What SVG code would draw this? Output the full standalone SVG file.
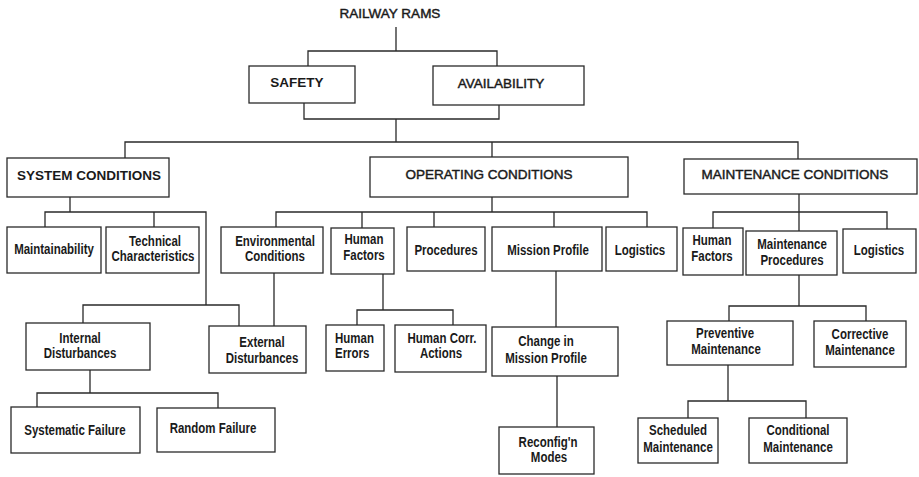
<svg xmlns="http://www.w3.org/2000/svg" width="919" height="477" viewBox="0 0 919 477">
<style>
.b{fill:#fff;stroke:#2a2a2a;stroke-width:1.3}
.c{fill:none;stroke:#2a2a2a;stroke-width:1.3}
.t{font-family:"Liberation Sans",Arial,sans-serif;font-weight:bold;font-size:14px;fill:#1a1a1a;text-anchor:middle}
.s{text-anchor:start}
.h{font-family:"Liberation Sans",Arial,sans-serif;font-size:13.5px;fill:#1a1a1a;stroke:#1a1a1a;stroke-width:0.45;text-anchor:middle}
.hb{font-weight:bold;stroke:none}
</style>
<rect width="919" height="477" fill="#fff"/>
<g id="connectors">
<path class="c" d="M396 27V51M308 66V51H497V66M304 103V119H499V105M396 119V142M125 158V142H798V159M492 142V157"/>
<path class="c" d="M70 197V212M45 227V212H206V305M154 212V227M83 323V305H239V326M274 273V326M90 370V393M37 407V393H218V408"/>
<path class="c" d="M492 197V212M276 227V212H647V227M362 212V228M434 212V227M554 212V227M383 274V310M357 325V310H453V325M556 271V327M557 376V427"/>
<path class="c" d="M799 194V231M713 228V212H887V229M799 275V306M729 321V306H866V321M728 365V401M688 418V401H806V418"/>
</g>
<g id="railway-rams"><text class="h" x="390" y="18">RAILWAY RAMS</text></g>
<g id="safety"><rect class="b" x="249" y="66" width="106" height="37"/><text class="h hb" x="297" y="87">SAFETY</text></g>
<g id="availability"><rect class="b" x="433" y="66" width="151" height="39"/><text class="h" x="501" y="88">AVAILABILITY</text></g>
<g id="system-conditions"><rect class="b" x="7" y="158" width="162" height="39"/><text class="h hb" x="89" y="180">SYSTEM CONDITIONS</text></g>
<g id="operating-conditions"><rect class="b" x="370" y="157" width="258" height="40"/><text class="h" x="489" y="179">OPERATING CONDITIONS</text></g>
<g id="maintenance-conditions"><rect class="b" x="684" y="159" width="233" height="35"/><text class="h" x="795" y="179">MAINTENANCE CONDITIONS</text></g>
<g id="maintainability"><rect class="b" x="7" y="227" width="94" height="46"/><text class="t" transform="translate(54 254) scale(0.82 1)">Maintainability</text></g>
<g id="technical"><rect class="b" x="106" y="227" width="93" height="46"/><text class="t" transform="translate(155 246) scale(0.82 1)">Technical</text><text class="t" transform="translate(153 261) scale(0.82 1)">Characteristics</text></g>
<g id="environmental"><rect class="b" x="221" y="227" width="102" height="46"/><text class="t" transform="translate(275 246) scale(0.82 1)">Environmental</text><text class="t" transform="translate(275 261) scale(0.82 1)">Conditions</text></g>
<g id="human-factors-op"><rect class="b" x="331" y="228" width="63" height="46"/><text class="t" transform="translate(364 244) scale(0.82 1)">Human</text><text class="t" transform="translate(364 260) scale(0.82 1)">Factors</text></g>
<g id="procedures"><rect class="b" x="407" y="227" width="78" height="44"/><text class="t" transform="translate(446 255) scale(0.82 1)">Procedures</text></g>
<g id="mission-profile"><rect class="b" x="492" y="227" width="110" height="44"/><text class="t" transform="translate(548 255) scale(0.82 1)">Mission Profile</text></g>
<g id="logistics-op"><rect class="b" x="606" y="227" width="71" height="44"/><text class="t" transform="translate(640 255) scale(0.82 1)">Logistics</text></g>
<g id="human-factors-maint"><rect class="b" x="683" y="228" width="60" height="47"/><text class="t" transform="translate(712 245) scale(0.82 1)">Human</text><text class="t" transform="translate(712 261) scale(0.82 1)">Factors</text></g>
<g id="maintenance-procedures"><rect class="b" x="746" y="231" width="91" height="44"/><text class="t" transform="translate(792 249) scale(0.82 1)">Maintenance</text><text class="t" transform="translate(792 265) scale(0.82 1)">Procedures</text></g>
<g id="logistics-maint"><rect class="b" x="843" y="229" width="73" height="44"/><text class="t" transform="translate(879 255) scale(0.82 1)">Logistics</text></g>
<g id="internal-disturbances"><rect class="b" x="26" y="323" width="124" height="47"/><text class="t" transform="translate(80 343) scale(0.82 1)">Internal</text><text class="t" transform="translate(80 358) scale(0.82 1)">Disturbances</text></g>
<g id="external-disturbances"><rect class="b" x="209" y="326" width="97" height="47"/><text class="t" transform="translate(262 347) scale(0.82 1)">External</text><text class="t" transform="translate(262 363) scale(0.82 1)">Disturbances</text></g>
<g id="systematic-failure"><rect class="b" x="11" y="407" width="129" height="46"/><text class="t" transform="translate(75 435) scale(0.82 1)">Systematic Failure</text></g>
<g id="random-failure"><rect class="b" x="157" y="408" width="118" height="44"/><text class="t" transform="translate(213 433) scale(0.82 1)">Random Failure</text></g>
<g id="human-errors"><rect class="b" x="326" y="325" width="58" height="46"/><text class="t s" transform="translate(335 343) scale(0.82 1)">Human</text><text class="t s" transform="translate(335 358) scale(0.82 1)">Errors</text></g>
<g id="human-corr-actions"><rect class="b" x="395" y="325" width="91" height="47"/><text class="t" transform="translate(442 343) scale(0.82 1)">Human Corr.</text><text class="t" transform="translate(441 358) scale(0.82 1)">Actions</text></g>
<g id="change-mission-profile"><rect class="b" x="492" y="327" width="126" height="49"/><text class="t" transform="translate(546 346) scale(0.82 1)">Change in</text><text class="t" transform="translate(546 363) scale(0.82 1)">Mission Profile</text></g>
<g id="reconfig-modes"><rect class="b" x="499" y="427" width="95" height="47"/><text class="t" transform="translate(548 447) scale(0.82 1)">Reconfig'n</text><text class="t" transform="translate(549 462) scale(0.82 1)">Modes</text></g>
<g id="preventive-maintenance"><rect class="b" x="667" y="321" width="126" height="44"/><text class="t" transform="translate(725 338) scale(0.82 1)">Preventive</text><text class="t" transform="translate(726 354) scale(0.82 1)">Maintenance</text></g>
<g id="corrective-maintenance"><rect class="b" x="814" y="321" width="92" height="46"/><text class="t" transform="translate(860 339) scale(0.82 1)">Corrective</text><text class="t" transform="translate(860 355) scale(0.82 1)">Maintenance</text></g>
<g id="scheduled-maintenance"><rect class="b" x="638" y="418" width="80" height="45"/><text class="t" transform="translate(678 435) scale(0.82 1)">Scheduled</text><text class="t" transform="translate(678 452) scale(0.82 1)">Maintenance</text></g>
<g id="conditional-maintenance"><rect class="b" x="749" y="418" width="98" height="45"/><text class="t" transform="translate(798 435) scale(0.82 1)">Conditional</text><text class="t" transform="translate(798 452) scale(0.82 1)">Maintenance</text></g>
</svg>
